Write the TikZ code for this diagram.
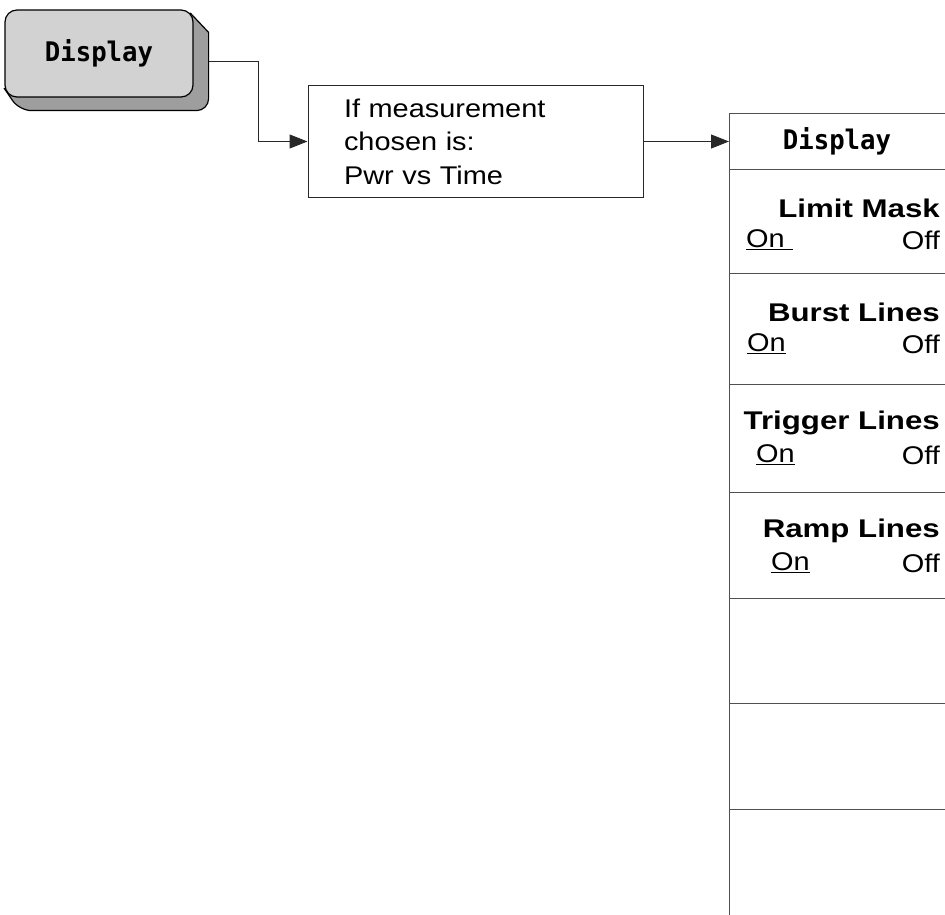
\documentclass[tikz,border=0pt]{standalone}
\usepackage{fontspec}
\setmainfont{Liberation Sans}[FakeStretch=1.13, BoldFeatures={FakeStretch=1.22}]
\newfontfamily\keyfont{DejaVu Sans Mono}[FakeStretch=0.95]
\usetikzlibrary{arrows.meta,positioning,calc,backgrounds}
\definecolor{keyface}{RGB}{210,210,210}
\definecolor{keyside}{RGB}{158,158,158}
\definecolor{edge}{RGB}{40,40,40}
\definecolor{rule}{RGB}{80,80,80}
\tikzset{
  keybox/.style={draw=black, line width=1.2pt, rounded corners=12pt, fill=keyface,
    minimum width=188pt, minimum height=87pt, font=\keyfont\bfseries\fontsize{27}{30}\selectfont},
  keyshade/.style={draw=black, line width=1.2pt, fill=keyside},
  condbox/.style={draw=edge, line width=1pt, minimum width=335pt, minimum height=111pt,
    text width=263pt, align=left, font=\fontsize{25.6}{33.5}\selectfont},
  menubox/.style={draw=rule, line width=1pt, minimum width=240pt, outer sep=0pt},
  hdrtext/.style={inner sep=0pt, font=\keyfont\bfseries\fontsize{27}{30}\selectfont},
  softkey/.style={inner sep=0pt, font=\bfseries\fontsize{25.6}{28}\selectfont},
  softval/.style={inner sep=0pt, font=\fontsize{25.6}{28}\selectfont},
  flow/.style={-{Triangle[length=18pt,width=14pt]}, line width=1pt, draw=edge}
}

\begin{document}
\begin{tikzpicture}[x=1pt, y=-1pt]
\clip (0,0) rectangle (945,915);
% hardkey with its raised side
\node[keybox] (key) at (99,53.5) {Display};
\begin{scope}[on background layer]
\filldraw[keyshade] ($(key.north east)+(-3,4)$) -- ($(key.north east)+(15,23)$)
  [rounded corners=12pt] -- ($(key.south east)+(15,13)$) -- ($(key.south west)+(15,13)$)
  [sharp corners] -- ($(key.south west)+(0,-9)$) -- (key.center) -- cycle;
\end{scope}
\coordinate (keyout) at ($(key.east)+(15,8)$);

\node[condbox] (cond) at (475.5,141.5) {If measurement\\chosen is:\\Pwr vs Time};

% softkey menu
\node[menubox, minimum height=55pt] (row0) at (849,141.5) {};
\node[hdrtext] (menutitle) at ([xshift=108pt]row0.west) {Display};
\foreach \i/\h [remember=\i as \j (initially 0)] in {1/104,2/111,3/108,4/106,5/105,6/106,7/106}
  \node[menubox, minimum height=\h pt, below=0pt of row\j] (row\i) {};

\foreach \i/\title/\onx/\ontext in {1/Limit Mask/17/{On\ },2/Burst Lines/18/On,
    3/Trigger Lines/27/On,4/Ramp Lines/42/On}{
  \node[softkey, anchor=east] (title\i) at ($(row\i.north west)+(211,39)$) {\title};
  \node[softval, anchor=west] (on\i) at ($(row\i.north west)+(\onx,71)$) {\underline{\ontext}};
  \node[softval, anchor=east] (off\i) at ($(row\i.north west)+(211,71)$) {Off};
}

\draw[flow] (keyout) -- ++(50,0) |- (cond.west);
\draw[flow] (cond.east) -- (row0.west);
\end{tikzpicture}
\end{document}
